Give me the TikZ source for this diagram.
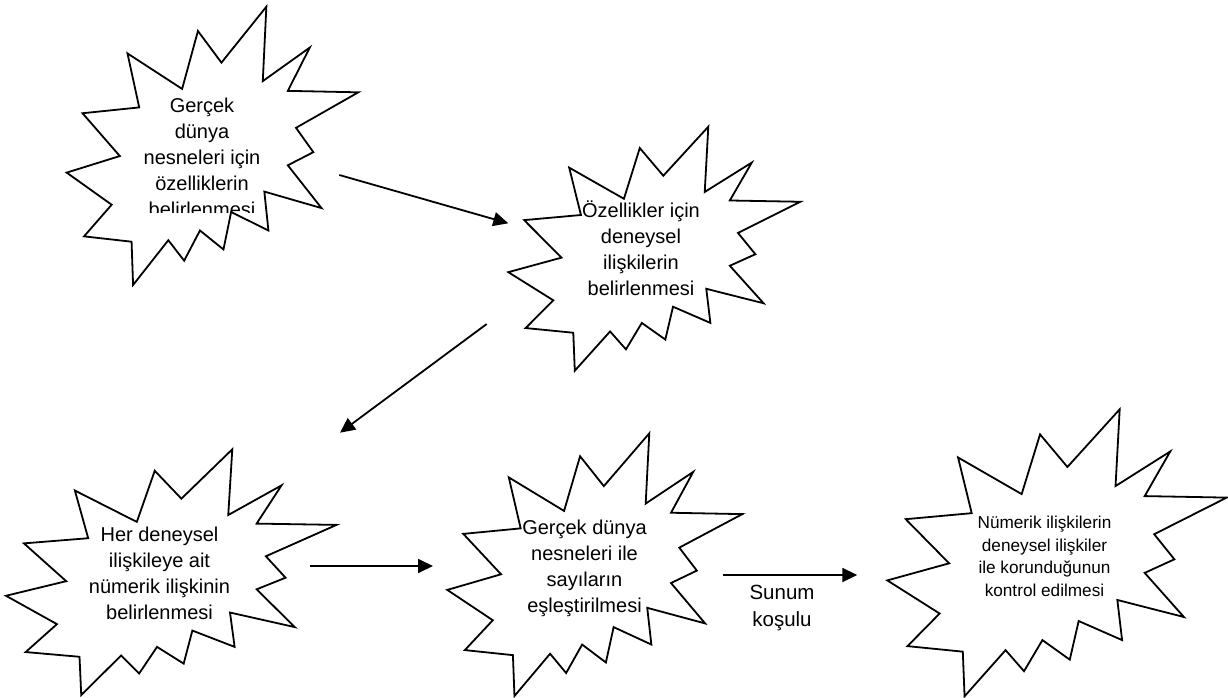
\documentclass[tikz,border=0pt]{standalone}
\usepackage{fontspec}
\setmainfont{Liberation Sans}
\usetikzlibrary{arrows.meta}

\tikzset{
  burst/.style={draw=black, line width=1.8pt, line join=miter, miter limit=20, fill=white},
  burstlabel/.style={align=center, inner sep=0pt, anchor=base, font=\fontsize{20}{26}\selectfont},
  smalllabel/.style={align=center, inner sep=0pt, anchor=base, font=\fontsize{17.2}{22.8}\selectfont},
  flow/.style={line width=1.8pt, -{Triangle[length=15pt,width=14pt]}},
}

% Explosion outline fitted to the box with top-left corner (#1,#2), width #3, height #4
\newcommand{\explosion}[4]{%
  \draw[burst, shift={(#1,#2)}, xscale=#3/216, yscale=#4/216]
    (114.62,43.42) -- (147.90,0) -- (145.25,57.77) -- (180.07,31.72) --
    (163.80,65.32) -- (216,66.45) -- (169.85,94.02) -- (182.70,112.90) --
    (163.80,123.10) -- (188.77,156.32) -- (146.40,143.50) -- (149.42,173.70) --
    (121.80,159.35) -- (116.12,188.42) -- (98.72,173.70) -- (87.00,197.12) --
    (75.27,181.25) -- (49.17,216) -- (48.05,182.40) -- (12.85,178.25) --
    (33.30,153.70) -- (0,128.77) -- (39.35,115.92) -- (11.72,82.70) --
    (53.72,78.17) -- (45.02,36.25) -- (85.50,63.82) -- (97.22,18.87) -- cycle;
}

\begin{document}
\begin{tikzpicture}[x=1pt, y=-1pt]
  \useasboundingbox (0,0) rectangle (1228,698);

  % the five explosion shapes
  \explosion{66.7}{6.7}{291.6}{278.3}
  \explosion{508.3}{126.7}{292.1}{244}
  \explosion{6}{449.3}{330.5}{245.7}
  \explosion{447.3}{433.3}{295}{262.7}
  \explosion{887.3}{409.3}{339.4}{287}

  % texts (anchored at the baseline of their last line); the first one is cut off by its text box
  \begin{scope}
    \clip (120,80) rectangle (285,212.5);
    \node[burstlabel] (s1) at (202,216)
      {Gerçek\\dünya\\nesneleri için\\özelliklerin\\belirlenmesi};
  \end{scope}
  \node[burstlabel] (s2) at (641,295.5)
    {Özellikler için\\deneysel\\ilişkilerin\\belirlenmesi};
  \node[burstlabel] (s3) at (159.5,619.4)
    {Her deneysel\\ilişkileye ait\\nümerik ilişkinin\\belirlenmesi};
  \node[burstlabel] (s4) at (584.5,612.5)
    {Gerçek dünya\\nesneleri ile\\sayıların\\eşleştirilmesi};
  \node[smalllabel] (s5) at (1044.5,596.7)
    {Nümerik ilişkilerin\\deneysel ilişkiler\\ile korunduğunun\\kontrol edilmesi};

  % arrow end points
  \coordinate (a1s) at (339.3,175);
  \coordinate (a1e) at (508.3,223.3);
  \coordinate (a2s) at (486.7,324);
  \coordinate (a2e) at (340,432.7);
  \coordinate (a3s) at (310,566);
  \coordinate (a3e) at (433,566);
  \coordinate (a4s) at (723.3,575);
  \coordinate (a4e) at (857.3,575);

  \draw[flow] (a1s) -- (a1e);
  \draw[flow] (a2s) -- (a2e);
  \draw[flow] (a3s) -- (a3e);
  \draw[flow] (a4s) -- (a4e);

  \node[align=center, inner sep=0pt, anchor=base, font=\fontsize{20.5}{27.3}\selectfont]
    (cond) at (782,626.6) {Sunum\\koşulu};
\end{tikzpicture}
\end{document}
